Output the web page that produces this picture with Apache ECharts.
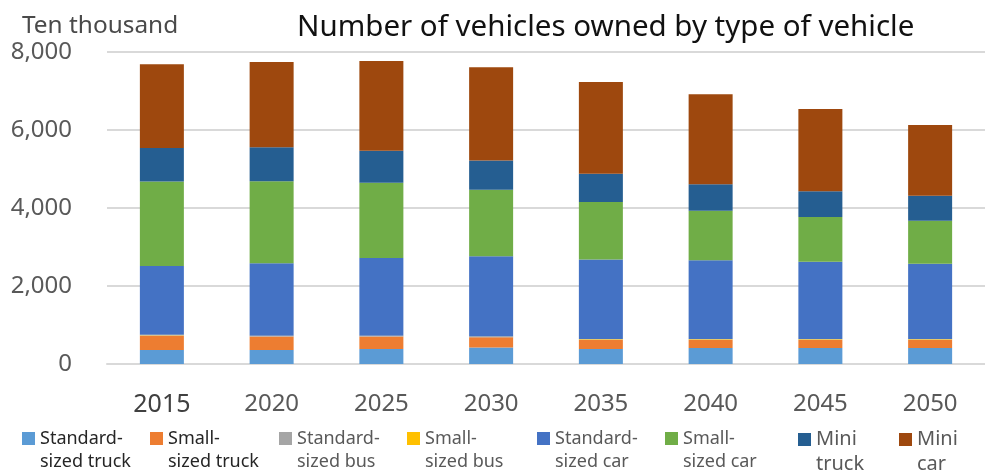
<!DOCTYPE html>
<html>
<head>
<meta charset="utf-8">
<script src="https://cdn.jsdelivr.net/npm/echarts@6/dist/echarts.min.js"></script>
<style>
html,body{margin:0;padding:0;background:#fff;}
#chart{width:985px;height:472px;}
</style>
</head>
<body>
<div id="chart"></div>
<script>
const categories = ['2015','2020','2025','2030','2035','2040','2045','2050'];
const seriesNames = ['Standard-sized truck','Small-sized truck','Standard-sized bus','Small-sized bus','Standard-sized car','Small-sized car','Mini truck','Mini car'];
const legendLabels = ['Standard-\nsized truck','Small-\nsized truck','Standard-\nsized bus','Small-\nsized bus','Standard-\nsized car','Small-\nsized car','Mini\ntruck','Mini\ncar'];
const standardTruck = [358,359,385,425,384,410,410,410];
const smallTruck = [369,345,319,260,234,208,208,208];
const standardBus = [11,11,11,11,11,11,11,11];
const smallBus = [11,11,11,11,11,11,11,11];
const standardCar = [1764,1856,1995,2058,2041,2023,1979,1928];
const smallCar = [2164,2105,1925,1703,1470,1269,1149,1108];
const miniTruck = [862,873,822,748,725,679,664,639];
const miniCar = [2147,2182,2300,2394,2357,2308,2104,1812];
const yTicks = [0,2000,4000,6000,8000];

const values = [standardTruck,smallTruck,standardBus,smallBus,standardCar,smallCar,miniTruck,miniCar];
const colors = ['#5b9bd5','#ed7d31','#a5a5a5','#ffc000','#4472c4','#70ad47','#255e91','#9e480e'];
const legendX = [22,150,279,407,537,665,798,899];

const FONT = 'Noto Sans';
const chart = echarts.init(document.getElementById('chart'), null, {renderer:'canvas'});

const legends = seriesNames.map((n,i)=>{
  const mini = i >= 6;
  const dark = i < 2;
  const L = mini ? 25 : 23;
  const H = 13 + L;
  return {
    data:[n],
    left: legendX[i],
    top: 427,
    padding:0,
    itemWidth:13,
    itemHeight:H,
    icon:'path://M0,0L13,0L13,13L0,13Z M0,' + H + 'L13,' + H + 'Z',
    selectedMode:false,
    formatter: ()=>legendLabels[i],
    textStyle:{
      fontFamily:FONT,
      fontSize: mini ? 20 : 18,
      lineHeight: L,
      color: dark ? '#262626' : '#595959'
    }
  };
});

const option = {
  animation:false,
  color: colors,
  title:[
    {text:'Number of vehicles owned by type of vehicle', left:292, top:6,
     textStyle:{fontFamily:FONT, fontSize:29.5, fontWeight:'normal', color:'#111', lineHeight:34}},
    {text:'Ten thousand', left:17, top:6,
     textStyle:{fontFamily:FONT, fontSize:24.4, fontWeight:'normal', color:'#4a4a4a', lineHeight:30}}
  ],
  legend: legends,
  grid:{left:107, top:52, width:884, height:312, containLabel:false},
  xAxis:{
    type:'category',
    data:categories,
    axisLine:{show:true, lineStyle:{color:'#d9d9d9', width:2}},
    axisTick:{show:false},
    axisLabel:{
      margin:28,
      fontFamily:FONT,
      formatter:(v)=> v===categories[0] ? '{a|'+v+'}' : '{b|'+v+'}',
      rich:{
        a:{fontFamily:FONT, fontSize:25, color:'#404040'},
        b:{fontFamily:FONT, fontSize:24, color:'#595959'}
      }
    }
  },
  yAxis:{
    type:'value',
    min:yTicks[0],
    max:yTicks[yTicks.length-1],
    interval:yTicks[1]-yTicks[0],
    axisLine:{show:false},
    axisTick:{show:false},
    splitLine:{lineStyle:{color:'#d9d9d9', width:2}},
    axisLabel:{
      margin:35,
      fontFamily:FONT,
      fontSize:24,
      color:'#595959',
      formatter:(v)=>v.toLocaleString('en-US')
    }
  },
  series: seriesNames.map((n,i)=>({
    name:n,
    type:'bar',
    stack:'total',
    barWidth:44,
    data:values[i],
    itemStyle:{color:colors[i]}
  }))
};
chart.setOption(option);
</script>
</body>
</html>
